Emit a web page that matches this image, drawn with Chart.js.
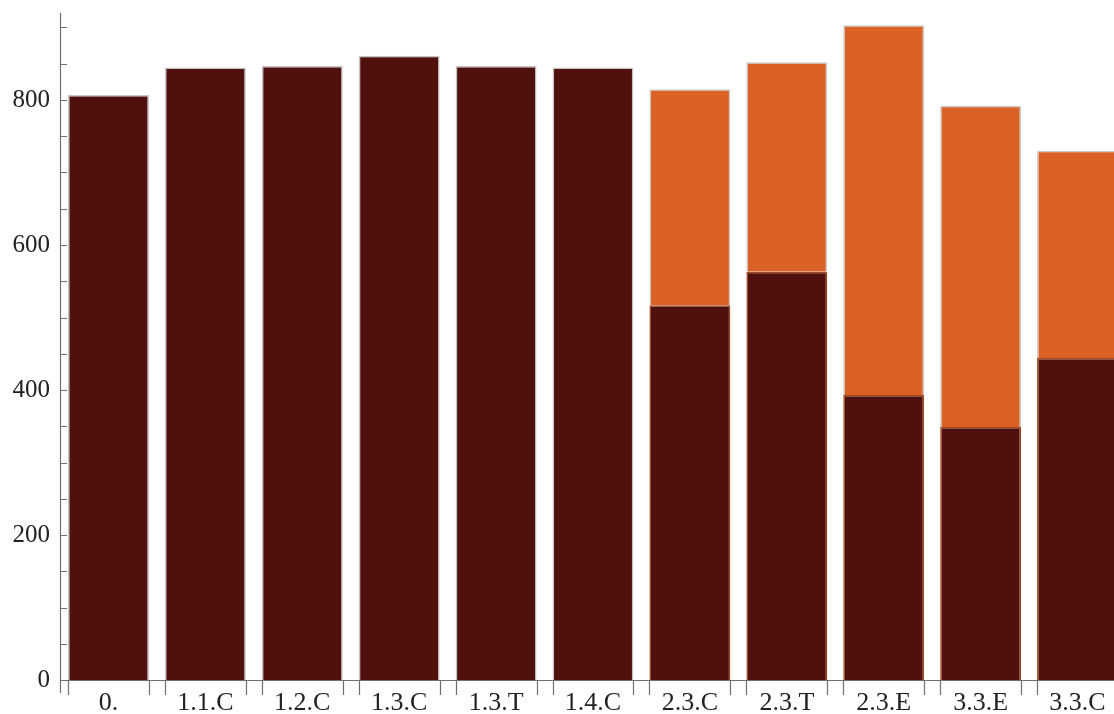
<!DOCTYPE html>
<html>
<head>
<meta charset="utf-8">
<script src="https://cdn.jsdelivr.net/npm/chart.js@4/dist/chart.umd.min.js"></script>
<style>
    html, body { margin: 0; padding: 0; background: #fff; overflow: hidden; }
    #wrap { position: relative; width: 1126px; height: 714px; }
</style>
</head>
<body>
<div id="wrap"><canvas id="stackChart"></canvas></div>
<script>
const categories = ['0.', '1.1.C', '1.2.C', '1.3.C', '1.3.T', '1.4.C', '2.3.C', '2.3.T', '2.3.E', '3.3.E', '3.3.C'];
const baseValues = [807, 845, 847, 861, 847, 845, 517, 563, 393, 349, 444];
const topValues = [0, 0, 0, 0, 0, 0, 298, 289, 510, 443, 286];
const yTickLabels = [0, 200, 400, 600, 800];

const darkRed = '#50110e';
const orange = '#da6226';

// axis lines and inward ticks, plus ticks at every bar edge on the x axis
const axisPlugin = {
    id: 'axisPlugin',
    afterDraw(chart) {
        const ctx = chart.ctx;
        const area = chart.chartArea;
        const y = chart.scales.y;
        ctx.save();
        ctx.strokeStyle = '#6e6e6e';
        ctx.lineWidth = 1.2;
        ctx.beginPath();
        ctx.moveTo(area.left + 0.5, area.top);
        ctx.lineTo(area.left + 0.5, area.bottom + 13);
        ctx.moveTo(area.left, area.bottom + 0.5);
        ctx.lineTo(area.right, area.bottom + 0.5);
        for (let v = 0; v <= y.max; v += 50) {
            const py = Math.round(y.getPixelForValue(v)) + 0.5;
            ctx.moveTo(area.left, py);
            ctx.lineTo(area.left + 7, py);
        }
        chart.getDatasetMeta(0).data.forEach(bar => {
            const half = bar.width / 2;
            [bar.x - half, bar.x + half].forEach(px => {
                ctx.moveTo(Math.round(px) + 0.5, area.bottom);
                ctx.lineTo(Math.round(px) + 0.5, area.bottom + 15);
            });
        });
        ctx.stroke();
        ctx.restore();
    }
};

const ctx = document.getElementById('stackChart').getContext('2d');
new Chart(ctx, {
    type: 'bar',
    data: {
        labels: categories,
        datasets: [
            {
                label: 'base',
                data: baseValues,
                backgroundColor: darkRed,
                borderColor: c => topValues[c.dataIndex] > 0 ? '#a4461c' : '#c4c4c4',
                borderWidth: 1.5,
                barPercentage: 0.835,
                categoryPercentage: 1
            },
            {
                label: 'top',
                data: topValues,
                backgroundColor: orange,
                borderColor: '#c8c8c8',
                borderWidth: 1.5,
                barPercentage: 0.835,
                categoryPercentage: 1
            }
        ]
    },
    options: {
        responsive: true,
        maintainAspectRatio: false,
        animation: false,
        layout: { padding: { top: 13, right: 0, left: 0, bottom: 0 } },
        plugins: {
            legend: { display: false },
            tooltip: { enabled: false }
        },
        scales: {
            x: {
                stacked: true,
                grid: { display: false, drawTicks: false },
                border: { display: false },
                afterFit: scale => { scale.height = 34; },
                ticks: {
                    autoSkip: false,
                    maxRotation: 0,
                    padding: 8,
                    color: '#222',
                    font: { family: "'Liberation Serif', serif", size: 26 }
                }
            },
            y: {
                stacked: true,
                min: 0,
                max: 920,
                grid: { display: false, drawTicks: false },
                border: { display: false },
                afterFit: scale => {
                    scale.width = 60;
                    scale.paddingTop = 0;
                    scale.paddingBottom = 0;
                },
                ticks: {
                    stepSize: 50,
                    padding: 10,
                    color: '#222',
                    font: { family: "'Liberation Serif', serif", size: 25 },
                    callback: v => yTickLabels.includes(v) ? v : ''
                }
            }
        }
    },
    plugins: [axisPlugin]
});
</script>
</body>
</html>
